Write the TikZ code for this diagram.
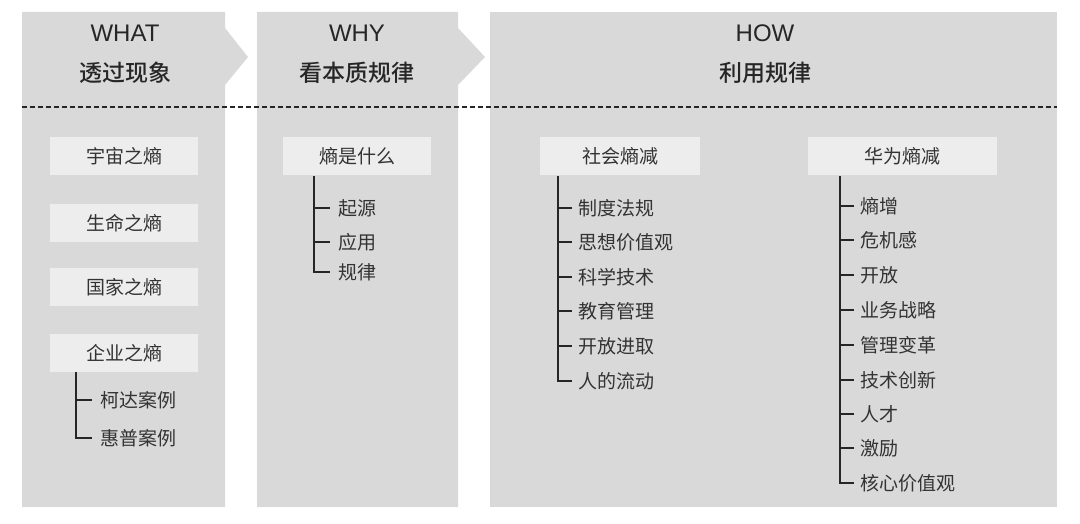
\documentclass[tikz,border=0pt]{standalone}
\usepackage{fontspec}
\setmainfont{Liberation Sans}
\newfontfamily\cjk{Noto Sans CJK SC}
\newfontfamily\cjkb{Noto Sans CJK SC Medium}
\begin{document}
\begin{tikzpicture}[x=1pt,y=-1pt,
  panel/.style={fill=black!15,draw=none},
  lbl/.style={fill=black!7,minimum height=38pt,inner sep=0pt,font=\cjk\fontsize{19}{19}\selectfont,text=black!80},
  itm/.style={anchor=west,inner sep=0pt,font=\cjk\fontsize{19}{19}\selectfont,text=black!80},
  hd/.style={font=\fontsize{24}{24}\selectfont,text=black!85},
  hdc/.style={font=\cjkb\fontsize{23}{23}\selectfont,text=black!85},
  tree/.style={line width=2.6pt,black!85}]
\useasboundingbox (0,0) rectangle (1080,524);
\fill[white] (0,0) rectangle (1080,524);
% panels
\fill[panel] (22,12) -- (225,12) -- (225,28) -- (248,57) -- (225,85) -- (225,507) -- (22,507) -- cycle;
\fill[panel] (257,12) -- (458,12) -- (458,28) -- (485,57) -- (458,85) -- (458,507) -- (257,507) -- cycle;
\fill[panel] (490,12) rectangle (1057,507);
\draw[dashed,line width=1.2pt,black!85,dash pattern=on 5pt off 3pt] (22,107) -- (1057,107);
% headers
\node[hd] (h1) at (125,33) {WHAT};
\node[hdc] (h1c) at (125,73) {透过现象};
\node[hd] (h2) at (357,33) {WHY};
\node[hdc] (h2c) at (357,73) {看本质规律};
\node[hd] (h3) at (765,33) {HOW};
\node[hdc] (h3c) at (765,73) {利用规律};
% WHAT
\node[lbl,minimum width=148pt] (w1) at (124,156) {宇宙之熵};
\node[lbl,minimum width=148pt] (w2) at (124,223) {生命之熵};
\node[lbl,minimum width=148pt] (w3) at (124,287) {国家之熵};
\node[lbl,minimum width=148pt] (w4) at (124,353) {企业之熵};
\node[itm] (w41) at (100,400) {柯达案例};
\node[itm] (w42) at (100,438) {惠普案例};
\draw[tree] (76,372) -- (76,438) -- (w42.west -| 92,438);
\draw[tree] (76,400) -- (92,400);
% WHY
\node[lbl,minimum width=148pt] (y1) at (357,156) {熵是什么};
\node[itm] (y11) at (338,208) {起源};
\node[itm] (y12) at (338,242) {应用};
\node[itm] (y13) at (338,272) {规律};
\draw[tree] (314,176) -- (314,272) -- (330,272);
\foreach \yy in {208,242} \draw[tree] (314,\yy) -- (330,\yy);
% HOW left
\node[lbl,minimum width=160pt] (s1) at (620,156) {社会熵减};
\foreach \t/\yy [count=\i] in {制度法规/208,思想价值观/242,科学技术/277,教育管理/311,开放进取/346,人的流动/381}
  \node[itm] (s\i) at (578,\yy) {\t};
\draw[tree] (558,176) -- (558,381) -- (572,381);
\foreach \yy in {208,242,277,311,346} \draw[tree] (558,\yy) -- (572,\yy);
% HOW right
\node[lbl,minimum width=189pt] (u1) at (902,156) {华为熵减};
\foreach \t/\yy [count=\i] in {熵增/206,危机感/240,开放/275,业务战略/310,管理变革/345,技术创新/380,人才/414,激励/448,核心价值观/483}
  \node[itm] (u\i) at (860,\yy) {\t};
\draw[tree] (840,176) -- (840,483) -- (854,483);
\foreach \yy in {206,240,275,310,345,380,414,448} \draw[tree] (840,\yy) -- (854,\yy);
\end{tikzpicture}
\end{document}
